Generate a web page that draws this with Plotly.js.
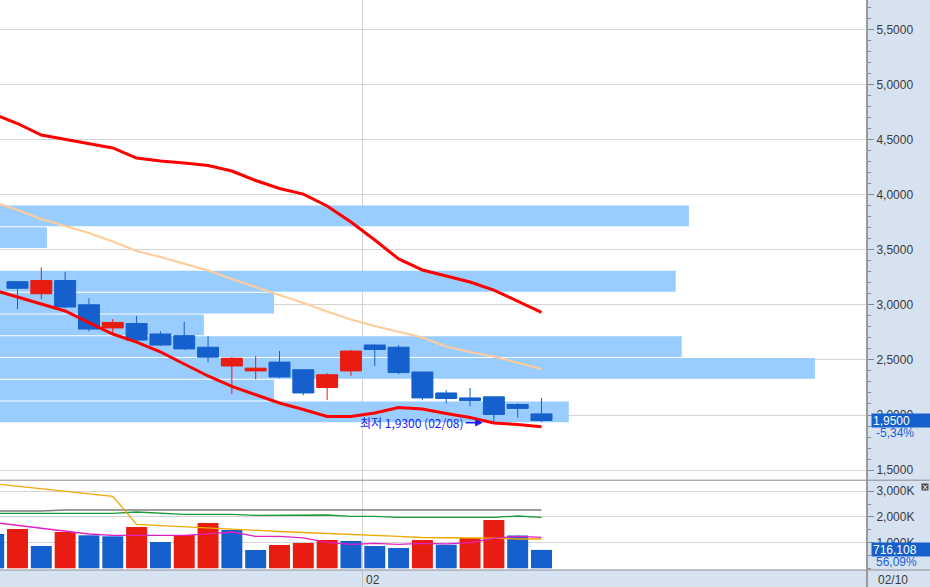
<!DOCTYPE html>
<html><head><meta charset="utf-8">
<script src="https://cdn.plot.ly/plotly-3.0.1.min.js"></script>
<style>html,body{margin:0;padding:0;background:#d7e2f0;}#chart{width:930px;height:587px;}</style>
</head><body><div id="chart"></div>
<script>
// ---- data ----
const dates = ['01/08','01/11','01/12','01/13','01/14','01/15','01/18','01/19','01/20','01/21','01/22','01/25',
               '01/26','01/27','01/28','01/29','02/01','02/02','02/03','02/04','02/05','02/08','02/09','02/10'];
const candleDates = dates.slice(1);
const openP  = [3.21, 3.10, 3.22, 3.00, 2.79, 2.83, 2.735, 2.72, 2.615, 2.445, 2.40, 2.48, 2.41, 2.25, 2.40, 2.635, 2.615, 2.39, 2.20, 2.155, 2.165, 2.095, 2.01];
const highP  = [3.21, 3.34, 3.30, 3.06, 2.87, 2.90, 2.76, 2.845, 2.715, 2.525, 2.535, 2.58, 2.415, 2.38, 2.59, 2.64, 2.635, 2.39, 2.225, 2.245, 2.165, 2.105, 2.155];
const lowP   = [2.96, 3.05, 2.97, 2.76, 2.74, 2.66, 2.625, 2.59, 2.48, 2.19, 2.325, 2.335, 2.18, 2.135, 2.355, 2.445, 2.37, 2.135, 2.105, 2.08, 1.93, 1.975, 1.935];
const closeP = [3.15, 3.22, 2.98, 2.78, 2.84, 2.68, 2.635, 2.60, 2.525, 2.515, 2.425, 2.345, 2.20, 2.365, 2.58, 2.595, 2.385, 2.155, 2.15, 2.13, 2.005, 2.06, 1.95];
const bbUpper  = [4.731, 4.645, 4.541, 4.500, 4.459, 4.423, 4.332, 4.305, 4.287, 4.264, 4.214, 4.128, 4.055, 4.005, 3.897, 3.751, 3.588, 3.416, 3.316, 3.261, 3.207, 3.134, 3.034, 2.932];
const bbMiddle = [3.933, 3.860, 3.779, 3.715, 3.652, 3.574, 3.488, 3.434, 3.375, 3.311, 3.234, 3.162, 3.093, 3.016, 2.939, 2.867, 2.808, 2.758, 2.703, 2.622, 2.572, 2.531, 2.472, 2.417];
const bbLower  = [3.134, 3.071, 3.012, 2.944, 2.839, 2.735, 2.662, 2.572, 2.463, 2.354, 2.259, 2.181, 2.109, 2.050, 1.986, 1.986, 2.018, 2.068, 2.054, 2.014, 1.977, 1.927, 1.914, 1.894];
const volume   = [1335, 1529, 868, 1412, 1284, 1245, 1607, 1023, 1296, 1763, 1490, 712, 907, 984, 1101, 1062, 868, 790, 1101, 918, 1179, 1879, 1276.7, 716.108]; // thousand shares
const volAvgYellow  = [3290, 3195, 3097, 3000, 2899, 2802, 1712, 1665, 1607, 1549, 1510, 1471, 1432, 1393, 1362, 1335, 1284, 1245, 1198, 1179, 1179, 1171, 1140, 1140];
const volAvgMagenta = [1782, 1665, 1568, 1451, 1335, 1284, 1276, 1284, 1284, 1340, 1412, 1245, 1245, 1187, 1012, 934, 973, 934, 973, 950, 996, 1167, 1245, 1206];
const volAvgGreen   = [2140, 2140, 2140, 2140, 2140, 2140, 2191, 2140, 2101, 2101, 2101, 2062, 2062, 2074, 2074, 2023, 2023, 1984, 1984, 1984, 1984, 1984, 2035, 1984];
const volAvgGray    = [2230, 2230, 2230, 2268, 2268, 2268, 2268, 2268, 2268, 2268, 2268, 2268, 2268, 2268, 2268, 2268, 2268, 2268, 2268, 2268, 2268, 2268, 2268, 2268];
const profileLow = 1.93, profileStep = 0.1975;
const profileShare = [13.45, 6.48, 19.27, 16.12, 4.82, 6.48, 15.98, 0, 1.11, 16.29]; // % of volume, bottom band to top band
const priceTicks = [1.5, 2.0, 2.5, 3.0, 3.5, 4.0, 4.5, 5.0, 5.5];
const priceTickText = ['1,5000','2,0000','2,5000','3,0000','3,5000','4,0000','4,5000','5,0000','5,5000'];
const volTicks = [1000, 2000, 3000];
const volTickText = ['1,000K','2,000K','3,000K'];

// ---- styling ----
const RED = '#e81c10', BLUE = '#1560cc';
const kOf = d => dates.indexOf(d);
const xRange = [0.2653, 36.624];
const monthSplit = dates.findIndex(d => d.startsWith('02/')) - 0.5;
const candleX = candleDates.map(kOf);
const allX = dates.map(kOf);
const volColors = volume.map((v, i) => (i > 0 && v > volume[i - 1]) ? RED : BLUE);
const bandCenters = profileShare.map((_, i) => profileLow + profileStep * (i + 0.5));
const maxShare = Math.max(...profileShare);
const fmtPrice = p => p.toFixed(4).replace('.', ',');
const minLow = Math.min(...lowP);
const minLowDate = candleDates[lowP.indexOf(minLow)];
const lastClose = closeP[closeP.length - 1], prevClose = closeP[closeP.length - 2];
const chg = ((lastClose / prevClose - 1) * 100).toFixed(2).replace('.', ',');
const lastVol = volume[volume.length - 1], prevVol = volume[volume.length - 2];
const volPct = (lastVol / prevVol * 100).toFixed(2).replace('.', ',');
const lastVolText = Math.round(lastVol * 1000).toLocaleString('en-US');
const tickFont = {family: "'Liberation Sans', Arial, sans-serif", size: 12, color: '#3a3a3a'};
const boxFont = {family: "'Liberation Sans', Arial, sans-serif", size: 12, color: '#ffffff'};

const traces = [
  {type: 'bar', orientation: 'h', x: profileShare, y: bandCenters, width: profileStep - 0.009,
   xaxis: 'x', yaxis: 'y', marker: {color: '#99ccff', line: {width: 0}}, hoverinfo: 'skip'},
  {type: 'candlestick', x: candleX, open: openP, high: highP, low: lowP, close: closeP, xaxis: 'x3', yaxis: 'y',
   increasing: {line: {color: RED, width: 1}, fillcolor: RED},
   decreasing: {line: {color: BLUE, width: 1}, fillcolor: BLUE}, whiskerwidth: 0},
  {type: 'scatter', mode: 'lines', x: allX, y: bbMiddle, xaxis: 'x3', yaxis: 'y', line: {color: '#ffcc99', width: 2}},
  {type: 'scatter', mode: 'lines', x: allX, y: bbUpper, xaxis: 'x3', yaxis: 'y', line: {color: '#ff0000', width: 3}},
  {type: 'scatter', mode: 'lines', x: allX, y: bbLower, xaxis: 'x3', yaxis: 'y', line: {color: '#ff0000', width: 3}},
  {type: 'bar', x: allX, y: volume, width: 0.88, xaxis: 'x2', yaxis: 'y2', marker: {color: volColors, line: {width: 0}}},
  {type: 'scatter', mode: 'lines', x: allX, y: volAvgGray, xaxis: 'x2', yaxis: 'y2', line: {color: '#7f7f7f', width: 1.3}},
  {type: 'scatter', mode: 'lines', x: allX, y: volAvgGreen, xaxis: 'x2', yaxis: 'y2', line: {color: '#1a9a3a', width: 1.3}},
  {type: 'scatter', mode: 'lines', x: allX, y: volAvgYellow, xaxis: 'x2', yaxis: 'y2', line: {color: '#f0a800', width: 1.3}},
  {type: 'scatter', mode: 'lines', x: allX, y: volAvgMagenta, xaxis: 'x2', yaxis: 'y2', line: {color: '#e020c0', width: 1.3}}
];

const volDomTop = 89.8 / 570;
const layout = {
  width: 930, height: 587,
  margin: {l: 0, r: 64, t: 0, b: 17, pad: 0},
  paper_bgcolor: '#d7e2f0', plot_bgcolor: '#ffffff',
  showlegend: false, hovermode: false, dragmode: false,
  barmode: 'overlay', boxgap: 0.12, boxgroupgap: 0,
  font: {family: "'Liberation Sans', sans-serif", size: 12, color: '#333'},
  xaxis: {domain: [0, 1], range: [0, maxShare / 0.941], visible: false, anchor: 'y', fixedrange: true},
  xaxis3: {overlaying: 'x', anchor: 'y', range: xRange, tickvals: [monthSplit], showticklabels: false, ticks: '',
           showgrid: true, gridcolor: '#d4d4d4', zeroline: false, showline: false, rangeslider: {visible: false}},
  xaxis2: {anchor: 'y2', domain: [0, 1], range: xRange, tickvals: [monthSplit], showticklabels: false,
           ticks: 'outside', ticklen: 17, tickcolor: '#c4c4c4', tickwidth: 1,
           showgrid: true, gridcolor: '#d4d4d4', zeroline: false, showline: false},
  yaxis: {domain: [90 / 570, 1], range: [1.4102, 5.7659], side: 'right', anchor: 'x',
          tickvals: priceTicks, ticktext: priceTickText, ticks: 'outside', ticklen: 6, tickcolor: '#8a8a8a',
          showline: true, linecolor: '#9a9a9a', linewidth: 2, showgrid: true, gridcolor: '#d4d4d4', zeroline: false,
          minor: {dtick: 0.1, tick0: 0, ticks: 'outside', ticklen: 3, tickcolor: '#8a8a8a', showgrid: false},
          tickfont: tickFont},
  yaxis2: {domain: [0, volDomTop], range: [-66, 3428], side: 'right', anchor: 'x2',
           tickvals: volTicks, ticktext: volTickText, ticks: 'outside', ticklen: 6, tickcolor: '#8a8a8a',
           showline: true, linecolor: '#9a9a9a', linewidth: 2, showgrid: true, gridcolor: '#d4d4d4', zeroline: false,
           minor: {dtick: 500, tick0: 0, ticks: 'outside', ticklen: 3, tickcolor: '#8a8a8a', showgrid: false},
           tickfont: tickFont},
  shapes: [
    {type: 'line', xref: 'paper', yref: 'paper', x0: 0, x1: 930 / 866, y0: volDomTop, y1: volDomTop, line: {color: '#8c8c8c', width: 1}},
    {type: 'line', xref: 'paper', yref: 'paper', x0: 0, x1: 930 / 866, y0: 0, y1: 0, line: {color: '#8c8c8c', width: 1}},
    {type: 'line', xref: 'paper', yref: 'paper', x0: 1.0012, x1: 1.0012, y0: -17 / 570, y1: 0, line: {color: '#9a9a9a', width: 2}}
  ],
  annotations: [
    {xref: 'x3', yref: 'y', x: kOf(minLowDate) - 0.47, y: minLow, text: '최저 ' + fmtPrice(minLow) + ' (' + minLowDate + ')',
     showarrow: true, ax: -17, ay: 0, xanchor: 'right', arrowhead: 2, arrowsize: 1, arrowwidth: 1.5, arrowcolor: '#1a1aff',
     standoff: 0, font: {family: "'Noto Sans CJK KR', sans-serif", size: 12, color: '#1a1aff'}},
    {xref: 'paper', yref: 'y', x: 1, y: lastClose, xanchor: 'left', xshift: 5, text: fmtPrice(lastClose), showarrow: false,
     bgcolor: BLUE, width: 56, height: 11, borderpad: 1, align: 'left', font: boxFont},
    {xref: 'paper', yref: 'y', x: 1, y: lastClose, xanchor: 'left', xshift: 8, yshift: -12, text: chg + '%', showarrow: false,
     font: Object.assign({}, tickFont, {color: '#1a5fd8'})},
    {xref: 'paper', yref: 'y2', x: 1, y: lastVol, xanchor: 'left', xshift: 5, text: lastVolText, showarrow: false,
     bgcolor: BLUE, width: 56, height: 11, borderpad: 1, align: 'left', font: boxFont},
    {xref: 'paper', yref: 'y2', x: 1, y: lastVol, xanchor: 'left', xshift: 8, yshift: -12, text: volPct + '%', showarrow: false,
     font: Object.assign({}, tickFont, {color: '#1a5fd8'})},
    {xref: 'x2', yref: 'paper', x: monthSplit, y: 0, xanchor: 'left', yanchor: 'top', xshift: 1, yshift: -1, text: '02', showarrow: false,
     font: tickFont},
    {xref: 'paper', yref: 'paper', x: 1, y: 0, xanchor: 'left', yanchor: 'top', xshift: 10, yshift: -1, text: dates[dates.length - 1], showarrow: false,
     font: tickFont},
    {xref: 'paper', yref: 'paper', x: 1, y: volDomTop, xanchor: 'left', yanchor: 'top', xshift: 55, yshift: -3, text: '×', showarrow: false,
     bgcolor: '#4a4a4a', width: 6, height: 6, borderpad: 0, font: {family: 'DejaVu Sans', size: 8, color: '#ffffff'}}
  ]
};

Plotly.newPlot('chart', traces, layout, {displayModeBar: false, staticPlot: true});
</script>
</body></html>
